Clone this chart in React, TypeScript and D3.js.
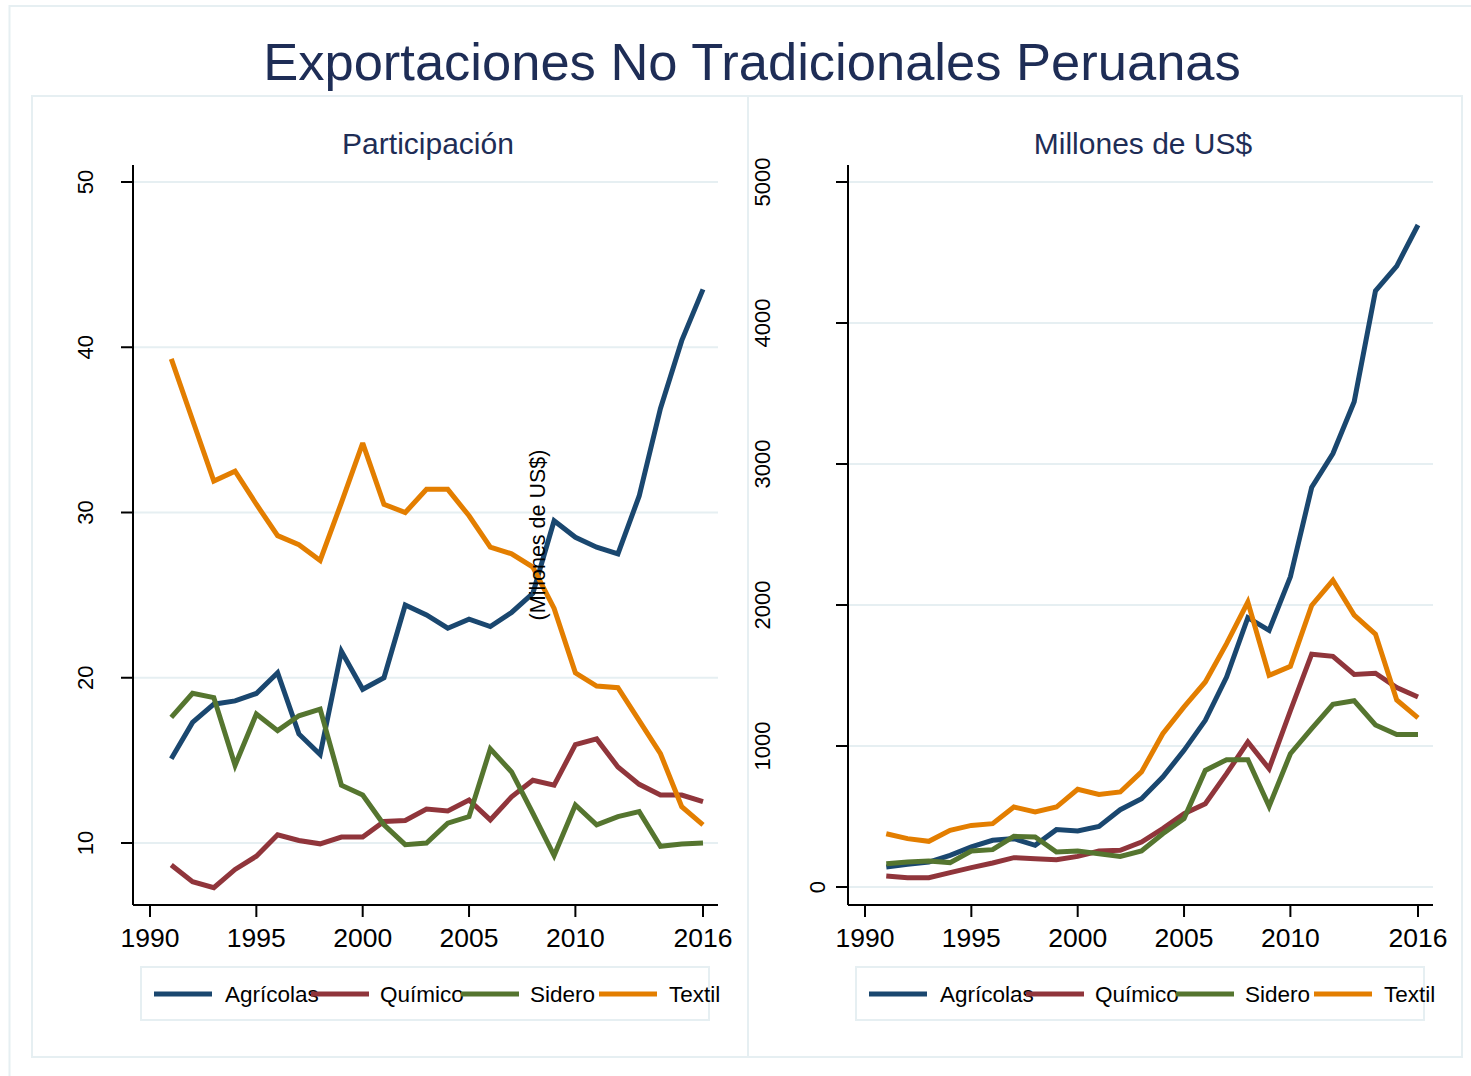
import React from "react";
import * as d3 from "d3";

const years = [1991,1992,1993,1994,1995,1996,1997,1998,1999,2000,2001,2002,2003,2004,2005,2006,2007,2008,2009,2010,2011,2012,2013,2014,2015,2016];
const seriesNames = ["Agrícolas", "Químico", "Sidero", "Textil"];
const colors = ["#1a476f", "#90353b", "#55752f", "#e37e00"];

const shareAgricolas = [15.1,17.3,18.4,18.6,19.05,20.3,16.6,15.35,21.6,19.3,20.0,24.4,23.8,23.0,23.55,23.1,23.95,25.1,29.5,28.5,27.9,27.5,31.0,36.3,40.4,43.5];
const shareQuimico = [8.67,7.66,7.3,8.4,9.2,10.5,10.15,9.95,10.36,10.36,11.3,11.36,12.06,11.94,12.6,11.4,12.8,13.8,13.5,15.95,16.3,14.6,13.55,12.9,12.9,12.5];
const shareSidero = [17.6,19.06,18.8,14.7,17.8,16.8,17.7,18.1,13.5,12.9,11.1,9.9,10.0,11.2,11.6,15.7,14.3,11.8,9.24,12.3,11.1,11.6,11.9,9.8,9.94,10.0];
const shareTextil = [39.3,35.6,31.9,32.5,30.5,28.6,28.05,27.1,30.6,34.2,30.5,30.0,31.4,31.4,29.8,27.9,27.5,26.7,24.2,20.3,19.5,19.4,17.4,15.4,12.2,11.1];

const usdAgricolas = [142,161,177,225,284,331,343,296,407,397,430,548,626,780,969,1182,1489,1910,1820,2200,2833,3074,3441,4227,4404,4695];
const usdQuimico = [78,66,66,102,137,170,208,201,194,217,255,260,319,414,520,591,804,1028,839,1250,1651,1636,1508,1516,1415,1348];
const usdSidero = [165,177,184,173,255,265,359,355,248,255,236,217,255,378,485,827,903,903,572,945,1123,1296,1321,1149,1081,1081];
const usdTextil = [378,343,324,402,437,449,567,532,567,693,657,674,816,1087,1277,1454,1726,2021,1501,1565,1997,2175,1929,1794,1326,1199];

const xTicks = [1990, 1995, 2000, 2005, 2010, 2016];
const shareTicks = [10, 20, 30, 40, 50];
const usdTicks = [0, 1000, 2000, 3000, 4000, 5000];

const FONT = "'Liberation Sans', Arial, Helvetica, sans-serif";
const NAVY = "#1e2d56";
const GRID = "#e6eff2";
const FRAME = "#e6eff2";

type PanelProps = {
  dx: number;
  title: string;
  data: number[][];
  yDomain: [number, number];
  yRange: [number, number];
  yTicks: number[];
  labelX: (t: number) => number;
};

function Panel({ dx, title, data, yDomain, yRange, yTicks, labelX }: PanelProps) {
  const axisX = 133 + dx;
  const plotRight = 718 + dx;
  const x = d3.scaleLinear().domain([1990, 2016]).range([150 + dx, 703 + dx]);
  const y = d3.scaleLinear().domain(yDomain).range(yRange);
  const line = d3
    .line<number>()
    .x((_, i) => x(years[i]))
    .y((v) => y(v))
    .curve(d3.curveLinear);
  const legendSampleX = [154, 311, 461, 599];
  const legendTextX = [225, 380, 530, 669];
  return (
    <g>
      <text x={428 + dx} y={154} textAnchor="middle" fontFamily={FONT} fontSize={30} fill={NAVY}>
        {title}
      </text>
      {yTicks.map((t) => (
        <line key={"g" + t} x1={axisX} x2={plotRight} y1={y(t)} y2={y(t)} stroke={GRID} strokeWidth={2} />
      ))}
      {data.map((s, k) => (
        <path key={"s" + k} d={line(s) || ""} fill="none" stroke={colors[k]} strokeWidth={5} strokeLinejoin="miter" strokeMiterlimit={3} />
      ))}
      <line x1={axisX} x2={axisX} y1={165} y2={905} stroke="#000" strokeWidth={2} />
      <line x1={axisX} x2={plotRight} y1={905} y2={905} stroke="#000" strokeWidth={2} />
      {yTicks.map((t) => (
        <g key={"t" + t}>
          <line x1={axisX - 12} x2={axisX} y1={y(t)} y2={y(t)} stroke="#000" strokeWidth={2} />
          <text
            transform={`translate(${labelX(t)},${y(t)}) rotate(-90)`}
            textAnchor="middle"
            dy="0.36em"
            fontFamily={FONT}
            fontSize={22}
            fill="#000"
          >
            {t}
          </text>
        </g>
      ))}
      {xTicks.map((t) => (
        <g key={"x" + t}>
          <line x1={x(t)} x2={x(t)} y1={905} y2={917} stroke="#000" strokeWidth={2} />
          <text x={x(t)} y={947} textAnchor="middle" fontFamily={FONT} fontSize={26.5} fill="#000">
            {t}
          </text>
        </g>
      ))}
      <rect x={141 + dx} y={967} width={568} height={53} fill="none" stroke={FRAME} strokeWidth={2} />
      {seriesNames.map((n, k) => (
        <g key={"l" + k}>
          <line x1={legendSampleX[k] + dx} x2={legendSampleX[k] + 58 + dx} y1={994} y2={994} stroke={colors[k]} strokeWidth={5} />
          <text x={legendTextX[k] + dx} y={1002} fontFamily={FONT} fontSize={22.5} fill="#000">
            {n}
          </text>
        </g>
      ))}
    </g>
  );
}

export default function App() {
  return (
    <svg width={1471} height={1076} style={{ position: "absolute", left: 0, top: 0, background: "#fff" }}>
      <rect x={0} y={0} width={1471} height={1076} fill="#fff" />
      <rect x={9.5} y={6} width={1470} height={1080} fill="none" stroke={FRAME} strokeWidth={2} />
      <rect x={32} y={96} width={1430} height={961} fill="none" stroke={FRAME} strokeWidth={2} />
      <line x1={748} x2={748} y1={96} y2={1057} stroke={FRAME} strokeWidth={2} />
      <text x={752} y={80} textAnchor="middle" fontFamily={FONT} fontSize={52.5} fill={NAVY}>
        Exportaciones No Tradicionales Peruanas
      </text>
      <Panel
        dx={0}
        title="Participación"
        data={[shareAgricolas, shareQuimico, shareSidero, shareTextil]}
        yDomain={[10, 50]}
        yRange={[843, 182]}
        yTicks={shareTicks}
        labelX={() => 85}
      />
      <Panel
        dx={715}
        title="Millones de US$"
        data={[usdAgricolas, usdQuimico, usdSidero, usdTextil]}
        yDomain={[0, 5000]}
        yRange={[887, 182]}
        yTicks={usdTicks}
        labelX={(t) => (t === 0 ? 817 : 762)}
      />
      <text
        transform="translate(537,535) rotate(-90)"
        textAnchor="middle"
        dy="0.36em"
        fontFamily={FONT}
        fontSize={21.5}
        fill="#000"
      >
        (Millones de US$)
      </text>
    </svg>
  );
}
